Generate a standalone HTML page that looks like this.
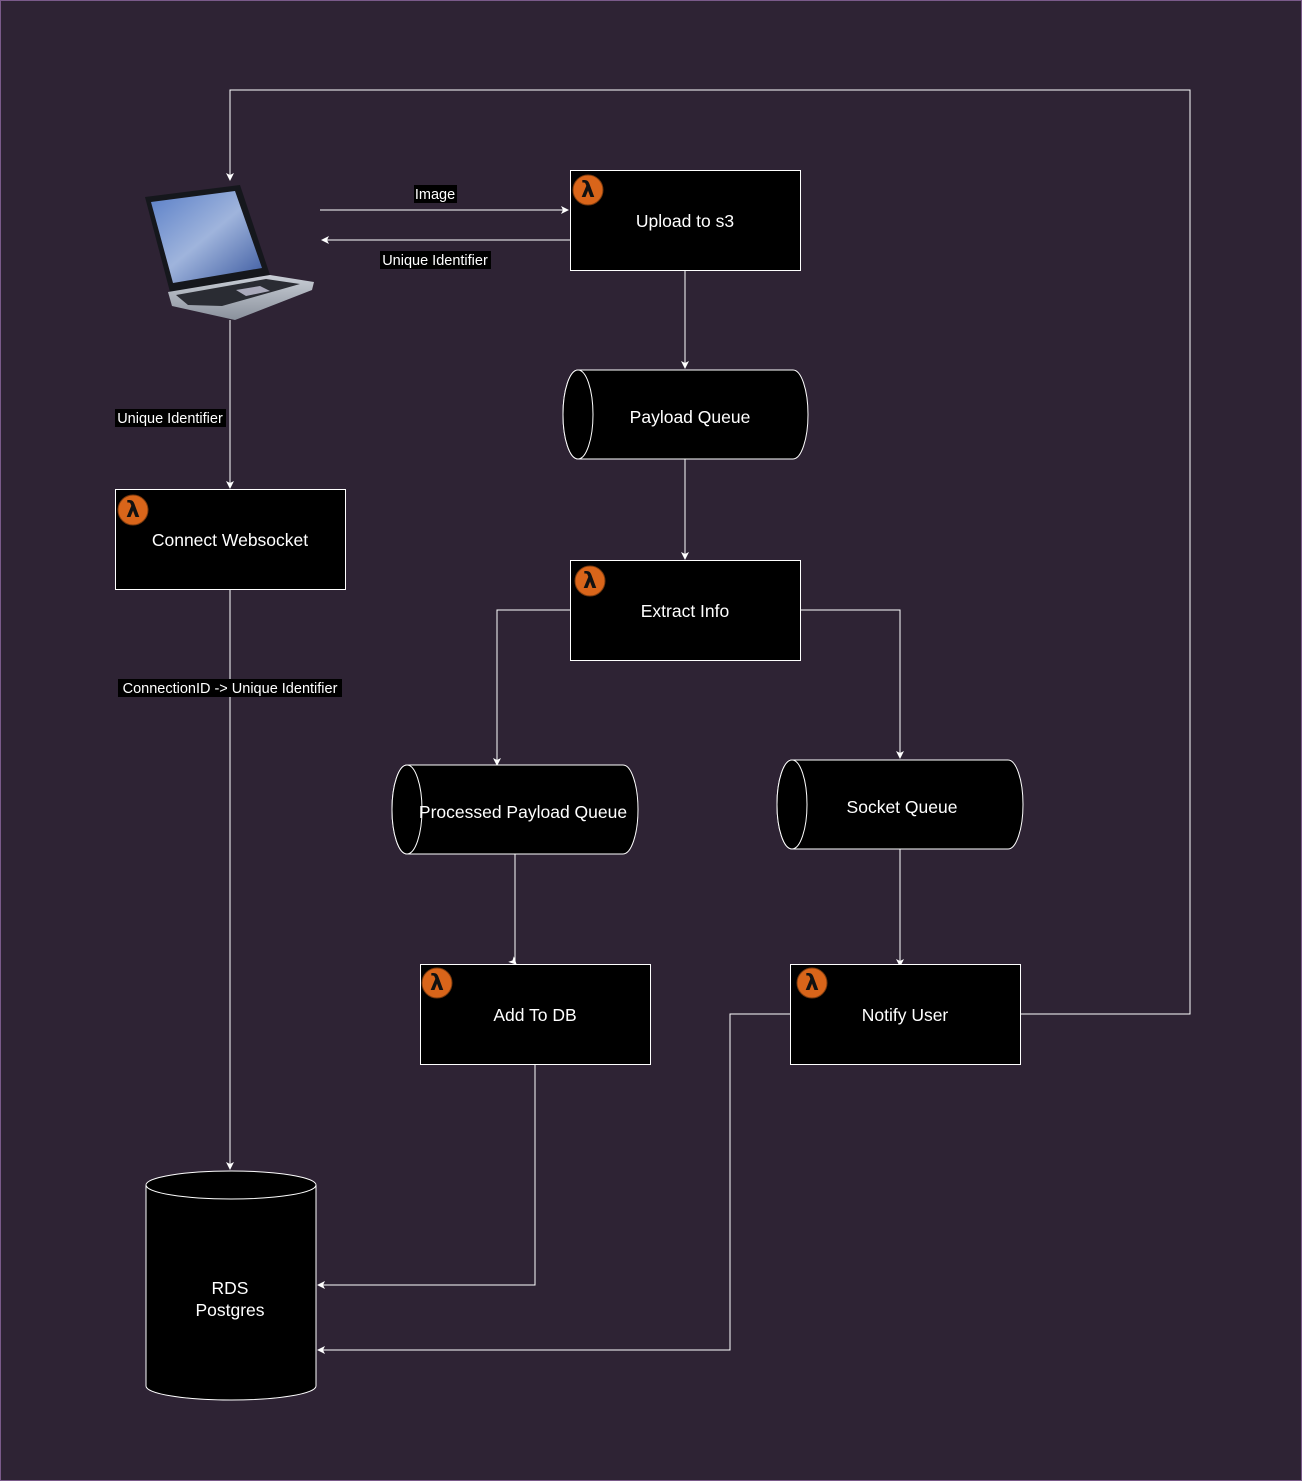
<!DOCTYPE html>
<html><head><style>
html,body{margin:0;padding:0;background:#2e2334;}
svg{display:block;font-family:"Liberation Sans",Arial,sans-serif;}
</style></head><body>
<svg width="1302" height="1481" viewBox="0 0 1302 1481" xmlns="http://www.w3.org/2000/svg">
<defs>
<marker id="a" markerWidth="8" markerHeight="8" refX="7" refY="4" orient="auto" markerUnits="userSpaceOnUse">
<path d="M0,0 L8,4 L0,8 L2,4 z" fill="#fff"/></marker>
<linearGradient id="scr" x1="0" y1="0" x2="1" y2="1"><stop offset="0" stop-color="#5a7fc8"/><stop offset="0.5" stop-color="#9fb4dc"/><stop offset="1" stop-color="#3c5aa0"/></linearGradient>
<linearGradient id="bd" x1="0" y1="0" x2="0" y2="1"><stop offset="0" stop-color="#c9ced6"/><stop offset="1" stop-color="#8a919c"/></linearGradient>
<g id="lam"><circle r="15" fill="#d9651a" stroke="#7a3a0e" stroke-width="1"/><text x="0" y="7" font-size="22" font-weight="bold" text-anchor="middle" fill="#111" font-family="DejaVu Sans,sans-serif">λ</text></g>
</defs>
<rect x="0.5" y="0.5" width="1301" height="1480" fill="#2e2334" stroke="#7a5a8a"/>
<g fill="none" stroke="#fff" stroke-width="1">
<polyline points="1020,1014 1190,1014 1190,90 230,90 230,180" marker-end="url(#a)"/>
<line x1="320" y1="210" x2="568" y2="210" marker-end="url(#a)"/>
<line x1="570" y1="240" x2="322" y2="240" marker-end="url(#a)"/>
<line x1="685" y1="270" x2="685" y2="368" marker-end="url(#a)"/>
<line x1="685" y1="459" x2="685" y2="559" marker-end="url(#a)"/>
<line x1="230" y1="320" x2="230" y2="488" marker-end="url(#a)"/>
<line x1="230" y1="589" x2="230" y2="1169" marker-end="url(#a)"/>
<polyline points="570,610 497,610 497,765" marker-end="url(#a)"/>
<polyline points="800,610 900,610 900,758" marker-end="url(#a)"/>
<polyline points="515,854 515,963 516,964" marker-end="url(#a)"/>
<line x1="900" y1="849" x2="900" y2="966" marker-end="url(#a)"/>
<polyline points="535,1064 535,1285 318,1285" marker-end="url(#a)"/>
<polyline points="790,1014 730,1014 730,1350 318,1350" marker-end="url(#a)"/>
</g>
<!-- laptop -->
<g>
<polygon points="145,197 240,185 270,275 170,292" fill="#15171c"/>
<polygon points="151,202 235,191 262,268 173,283" fill="url(#scr)"/>
<polygon points="168,292 270,275 314,282 312,290 235,320 172,306" fill="url(#bd)"/>
<polygon points="176,295 266,279 300,284 222,306 188,305" fill="#2a2c33"/>
<polygon points="236,290 260,286 270,291 246,296" fill="#aab"/>
</g>
<!-- boxes -->
<g stroke="#fff" stroke-width="1" fill="#000">
<rect x="570.5" y="170.5" width="230" height="100"/>
<rect x="115.5" y="489.5" width="230" height="100"/>
<rect x="570.5" y="560.5" width="230" height="100"/>
<rect x="420.5" y="964.5" width="230" height="100"/>
<rect x="790.5" y="964.5" width="230" height="100"/>
<path d="M578,370 H793 A15,44.5 0 0 1 793,459 H578 A15,44.5 0 0 1 578,370 Z"/>
<ellipse cx="578" cy="414.5" rx="15" ry="44.5"/>
<path d="M407,765 H623 A15,44.5 0 0 1 623,854 H407 A15,44.5 0 0 1 407,765 Z"/>
<ellipse cx="407" cy="809.5" rx="15" ry="44.5"/>
<path d="M792,760 H1008 A15,44.5 0 0 1 1008,849 H792 A15,44.5 0 0 1 792,760 Z"/>
<ellipse cx="792" cy="804.5" rx="15" ry="44.5"/>
<path d="M146,1185 A85,14 0 0 1 316,1185 V1386 A85,14 0 0 1 146,1386 Z"/>
<path d="M146,1185 A85,14 0 0 0 316,1185" fill="none"/>
</g>
<use href="#lam" x="588" y="190"/>
<use href="#lam" x="133" y="510"/>
<use href="#lam" x="590" y="581"/>
<use href="#lam" x="437" y="983"/>
<use href="#lam" x="812" y="983"/>
<g fill="#fff" font-size="17.5" text-anchor="middle">
<text x="685" y="227">Upload to s3</text>
<text x="230" y="546">Connect Websocket</text>
<text x="685" y="617">Extract Info</text>
<text x="535" y="1021">Add To DB</text>
<text x="905" y="1021">Notify User</text>
<text x="690" y="423">Payload Queue</text>
<text x="523" y="818">Processed Payload Queue</text>
<text x="902" y="813">Socket Queue</text>
<text x="230" y="1294">RDS</text>
<text x="230" y="1316">Postgres</text>
</g>
<g font-size="14.5" text-anchor="middle">
<rect x="414" y="185" width="43" height="18" fill="#000"/><text x="435" y="199" fill="#fff">Image</text>
<rect x="380" y="251" width="111" height="18" fill="#000"/><text x="435" y="265" fill="#fff">Unique Identifier</text>
<rect x="115" y="409" width="111" height="18" fill="#000"/><text x="170" y="423" fill="#fff">Unique Identifier</text>
<rect x="118" y="679" width="224" height="18" fill="#000"/><text x="230" y="693" fill="#fff">ConnectionID -&gt; Unique Identifier</text>
</g>
</svg>
</body></html>
